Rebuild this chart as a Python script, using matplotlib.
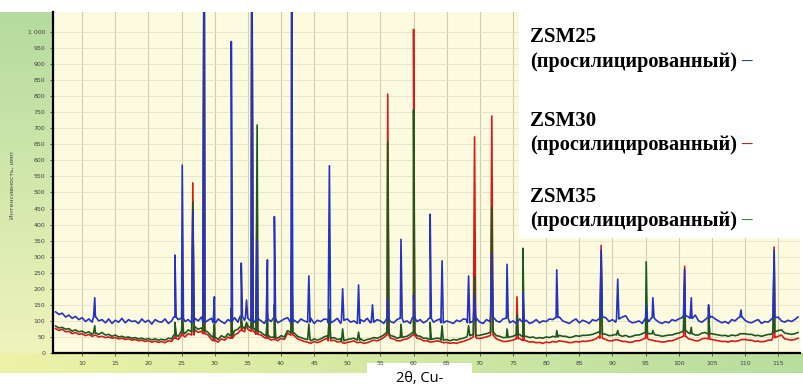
import numpy as np
import matplotlib.pyplot as plt
from matplotlib.patches import Rectangle

# --- data (2theta in degrees, intensity in counts) ---
# baseline samples every 0.5 degree, from 6 to 118
base_x = np.arange(6, 118.01, 0.5)
blue_base = [128, 120, 124, 112, 118, 108, 114, 104, 110, 98, 106, 96, 112, 100, 104, 94, 106, 92, 102, 96,
             108, 94, 104, 98, 100, 92, 106, 96, 102, 90, 104, 98, 96, 106, 92, 100, 112, 104, 108, 98,
             104, 94, 108, 100, 112, 96, 102, 108, 94, 106, 98, 92, 104, 100, 110, 96, 114, 102, 108, 100,
             96, 106, 100, 92, 104, 98, 108, 94, 100, 106, 110, 96, 102, 94, 106, 100, 96, 108, 92, 102,
             98, 106, 104, 94, 100, 108, 92, 102, 106, 96, 100, 92, 104, 98, 108, 94, 96, 104, 100, 92,
             106, 98, 94, 104, 108, 96, 100, 92, 110, 98, 104, 94, 100, 108, 96, 102, 106, 94, 100, 96,
             92, 102, 98, 106, 104, 94, 100, 108, 96, 92, 104, 98, 112, 100, 96, 106, 108, 94, 100, 92,
             106, 98, 102, 92, 96, 104, 94, 100, 98, 106, 104, 110, 112, 100, 96, 92, 100, 106, 94, 102,
             98, 92, 104, 100, 106, 112, 110, 98, 104, 96, 106, 112, 116, 100, 94, 96, 100, 92, 106, 98,
             110, 104, 96, 92, 98, 94, 104, 100, 106, 110, 116, 112, 108, 118, 100, 96, 104, 110, 114, 106,
             100, 94, 98, 92, 104, 100, 110, 112, 102, 96, 94, 100, 104, 92, 98, 96, 106, 110, 112, 100,
             96, 102, 98, 104, 112]
red_base = [76, 70, 74, 66, 68, 60, 64, 58, 60, 54, 58, 52, 56, 50, 52, 48, 50, 46, 48, 44,
            46, 42, 44, 40, 42, 38, 40, 36, 38, 34, 37, 33, 36, 32, 38, 36, 46, 42, 54, 50,
            60, 56, 72, 64, 68, 60, 56, 42, 38, 34, 44, 40, 50, 46, 56, 62, 70, 66, 74, 68,
            66, 58, 56, 48, 46, 40, 42, 38, 46, 42, 62, 56, 54, 44, 40, 36, 34, 30, 36, 32,
            36, 42, 46, 38, 40, 34, 36, 30, 33, 35, 38, 32, 34, 30, 32, 36, 40, 38, 42, 48,
            56, 46, 44, 38, 38, 42, 44, 50, 56, 46, 44, 38, 38, 34, 35, 38, 36, 32, 33, 30,
            32, 30, 34, 36, 40, 44, 50, 46, 45, 48, 50, 54, 56, 44, 40, 36, 36, 38, 40, 44,
            46, 40, 38, 34, 35, 32, 33, 30, 34, 32, 36, 34, 38, 36, 35, 32, 33, 36, 34, 37,
            36, 38, 40, 44, 52, 46, 42, 38, 38, 42, 40, 36, 36, 33, 34, 38, 38, 42, 46, 42,
            40, 37, 36, 34, 35, 38, 38, 42, 46, 50, 52, 44, 42, 38, 38, 44, 46, 44, 42, 40,
            38, 36, 36, 34, 38, 36, 38, 42, 42, 40, 40, 36, 37, 35, 36, 40, 40, 48, 52, 56,
            44, 42, 40, 42, 46]
green_base = [84, 78, 80, 74, 76, 68, 72, 66, 68, 62, 66, 58, 62, 58, 64, 56, 58, 52, 56, 50,
              52, 48, 50, 46, 48, 44, 46, 42, 45, 41, 44, 40, 43, 40, 46, 44, 56, 52, 66, 60,
              72, 66, 82, 74, 78, 70, 64, 52, 48, 42, 54, 48, 60, 54, 70, 74, 82, 76, 84, 78,
              76, 68, 64, 56, 54, 48, 50, 46, 54, 50, 70, 64, 62, 52, 48, 44, 42, 38, 44, 40,
              44, 50, 54, 46, 48, 42, 44, 38, 42, 44, 46, 40, 44, 38, 42, 44, 48, 46, 50, 56,
              64, 54, 52, 46, 48, 50, 52, 58, 64, 54, 52, 46, 46, 42, 44, 46, 45, 40, 42, 38,
              42, 40, 44, 46, 50, 54, 58, 54, 55, 58, 60, 64, 66, 54, 52, 48, 48, 50, 52, 56,
              58, 52, 52, 48, 50, 46, 48, 46, 50, 48, 52, 50, 55, 52, 52, 48, 50, 54, 52, 55,
              55, 56, 58, 62, 66, 60, 58, 54, 55, 58, 56, 52, 55, 50, 52, 56, 56, 60, 64, 60,
              60, 56, 55, 52, 54, 56, 56, 60, 62, 66, 70, 62, 60, 56, 56, 62, 64, 60, 60, 58,
              56, 54, 55, 52, 56, 54, 56, 60, 60, 58, 58, 54, 55, 52, 55, 58, 58, 66, 70, 72,
              62, 60, 58, 60, 64]

# peak positions and peak tops (None = no peak in that pattern)
peak_x = [11.9, 24.0, 25.1, 26.7, 28.4, 29.95, 32.5, 34.0, 34.8, 35.6, 36.4, 37.95, 39.0,
          41.6, 44.2, 47.3, 49.3, 51.7, 53.8, 56.1, 58.1, 60.0, 62.5, 64.3, 68.3, 69.2,
          71.8, 74.1, 75.6, 76.5, 81.6, 88.3, 90.8, 95.1, 96.1, 100.9, 101.9, 104.5,
          109.4, 114.4]
blue_peak = [172, 305, 585, 445, 1500, 175, 970, 280, 165, 1400, 350, 290, 425,
             1300, 240, 583, 200, 212, 150, 170, 354, 180, 432, 287, 240, 180,
             310, 276, None, 190, 259, 320, 230, 150, 172, 260, 172, 150, 134, 320]
red_peak = [None, 90, 120, 530, 1400, 80, 130, 100, 90, 1300, 530, 110, 140,
            310, None, 130, None, None, None, 806, None, 1008, None, None, None, 673,
            738, None, 175, 190, None, 335, None, 150, None, 270, None, 120, None, 330]
green_peak = [85, 95, 130, 470, 1450, 90, 140, 110, 95, 1350, 710, 120, 150,
              300, 90, 135, 75, 65, None, 657, 90, 757, 95, 85, 85, 240,
              455, 75, 120, 326, 70, 280, 70, 284, 70, 220, 80, 140, 60, 290]

labels = ["ZSM25", "ZSM30", "ZSM35"]
colors = ["#2632c0", "#d41c1c", "#1a5a20"]
dash_colors = ["#1f3a93", "#b0101e", "#2e7d32"]
x_ticks = list(range(10, 116, 5))
y_ticks = list(range(0, 1001, 50))


def make_trace(base_y, peak_y, half=0.18):
    xs = list(base_x)
    ys = list(base_y)
    for p, h in zip(peak_x, peak_y):
        if h is None:
            continue
        foot = base_y[int(round((p - base_x[0]) / 0.5))]
        xs += [p - half, p, p + half]
        ys += [foot, h, foot]
    order = np.argsort(xs, kind="stable")
    return np.array(xs)[order], np.array(ys)[order]


fig = plt.figure(figsize=(8.04, 3.9), dpi=100)
fig.patch.set_facecolor("white")

# background strips (left and bottom gradient)
bg = fig.add_axes([0, 0, 1, 1], zorder=-2)
t = np.linspace(0, 1, 100)
top_c = np.array([0.71, 0.86, 0.62])
bot_c = np.array([0.95, 0.96, 0.74])
grad_v = top_c[None, None, :] * (1 - t)[:, None, None] + bot_c[None, None, :] * t[:, None, None]
bg.imshow(grad_v, extent=[0, 53, 373, 12], aspect="auto")
left_c = np.array([0.93, 0.95, 0.66])
right_c = np.array([0.72, 0.87, 0.62])
grad_h = left_c[None, None, :] * (1 - t)[None, :, None] + right_c[None, None, :] * t[None, :, None]
bg.imshow(grad_h, extent=[0, 804, 373, 353], aspect="auto")
bg.add_patch(Rectangle((367, 363), 105, 30, facecolor="white", edgecolor="none"))
bg.set_xlim(0, 804)
bg.set_ylim(390, 0)
bg.axis("off")

ax = fig.add_axes([53 / 804, 37 / 390, 747 / 804, 341 / 390])
ax.set_facecolor("#fdfbdf")

order = [1, 2, 0]  # red behind, green, blue on top
peaks = [blue_peak, red_peak, green_peak]
bases = [blue_base, red_base, green_base]
for z, i in enumerate(order):
    xs, ys = make_trace(bases[i], peaks[i])
    ax.plot(xs, ys, color=colors[i], lw=1.2, zorder=3 + z)

ax.set_xlim(5.6, 118.3)
ax.set_ylim(0, 1062)
ax.set_xticks(x_ticks)
ax.set_xticklabels([str(v) for v in x_ticks])
ax.set_yticks(y_ticks)
ax.set_yticklabels(["1 000" if v == 1000 else str(v) for v in y_ticks])
ax.tick_params(axis="both", labelsize=4.5, colors="#444444", length=2, width=0.6)
ax.grid(axis="x", color="#cfcfae", lw=0.8)
ax.grid(axis="y", color="#e4e3c6", lw=0.6)
ax.set_axisbelow(True)
for s in ["top", "right"]:
    ax.spines[s].set_visible(False)
for s in ["left", "bottom"]:
    ax.spines[s].set_linewidth(1.6)
    ax.spines[s].set_color("black")

fig.text(12 / 804, 1 - 185 / 390, "Интенсивность, имп", rotation=90, fontsize=4.5,
         color="#444444", ha="center", va="center")
fig.text(420 / 804, 1 - 379 / 390, "2θ, Cu-", fontsize=10.5, ha="center", va="center",
         family="Open Sans")

# legend block
fig.add_artist(Rectangle((519 / 804, 1 - 238 / 390), 285 / 804, 238 / 390,
                         transform=fig.transFigure, facecolor="white", edgecolor="none",
                         zorder=5))
lines_y = [(42, 67), (126, 150), (202, 226)]
for i, (y1, y2) in enumerate(lines_y):
    fig.text(530 / 804, 1 - y1 / 390, labels[i], fontsize=15, fontweight="bold",
             family="Liberation Serif", va="baseline", zorder=6)
    txt = fig.text(530 / 804, 1 - y2 / 390, "(просилицированный)", fontsize=14.6,
                   fontweight="bold", family="Liberation Serif", va="baseline", zorder=6)
    fig.canvas.draw()
    bb = txt.get_window_extent()
    fig.text((bb.x1 + 4) / 804, 1 - y2 / 390, "–", fontsize=15, fontweight="bold",
             family="Liberation Serif", va="baseline", color=dash_colors[i], zorder=6)

fig.savefig("out.png", dpi=100)
